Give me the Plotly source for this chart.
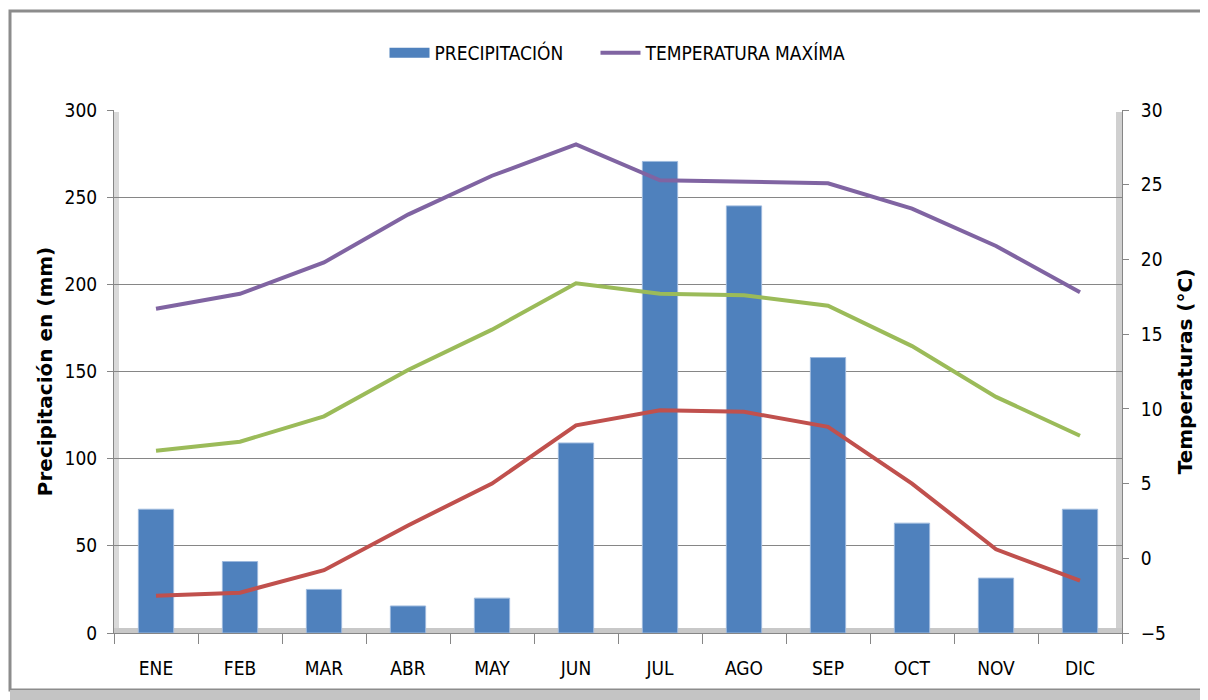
import plotly.graph_objects as go

meses = ["ENE", "FEB", "MAR", "ABR", "MAY", "JUN", "JUL", "AGO", "SEP", "OCT", "NOV", "DIC"]
precipitacion = [71, 41, 25, 15.5, 20, 109, 270.5, 245, 158, 63, 31.5, 71]
temp_max = [16.7, 17.7, 19.8, 23.0, 25.6, 27.7, 25.3, 25.2, 25.1, 23.4, 20.9, 17.8]
temp_med = [7.2, 7.8, 9.5, 12.6, 15.3, 18.4, 17.7, 17.6, 16.9, 14.2, 10.8, 8.2]
temp_min = [-2.5, -2.3, -0.8, 2.2, 5.0, 8.9, 9.9, 9.8, 8.8, 5.0, 0.6, -1.5]

tick_font = dict(family="DejaVu Sans Condensed, Liberation Sans Narrow, sans-serif", size=19, color="#000000")
title_font = dict(family="DejaVu Sans, Verdana, sans-serif", size=20, color="#000000")

fig = go.Figure()
fig.add_trace(go.Bar(x=meses, y=precipitacion, name="PRECIPITACIÓN",
                     marker=dict(color="#4F81BD", line=dict(color="#9DB9DD", width=1)),
                     yaxis="y", showlegend=False))
# legend entry for precipitation (wide blue block like the original)
fig.add_trace(go.Scatter(x=[None], y=[None], name="PRECIPITACIÓN     ", mode="lines",
                         line=dict(color="#4F81BD", width=16), yaxis="y"))
fig.add_trace(go.Scatter(x=meses, y=temp_max, name="TEMPERATURA MAXÍMA", mode="lines",
                         line=dict(color="#8064A2", width=4), yaxis="y2"))
fig.add_trace(go.Scatter(x=meses, y=temp_med, name="TEMPERATURA MEDIA", mode="lines",
                         line=dict(color="#9BBB59", width=4), yaxis="y2", showlegend=False))
fig.add_trace(go.Scatter(x=meses, y=temp_min, name="TEMPERATURA MÍNIMA", mode="lines",
                         line=dict(color="#C0504D", width=4), yaxis="y2", showlegend=False))

OFF = 8  # page body margin
W, H = 1208 - OFF, 700 - OFF
L, R, T, B = 114 - OFF, 86, 110 - OFF, 67
pw, ph = W - L - R, H - T - B

def px_x(x):
    return (x - OFF - L) / pw

def px_y(y):
    return (H - B - (y - OFF)) / ph

shapes = [
    # outer frame
    dict(type="rect", xref="paper", yref="paper", x0=px_x(10), x1=px_x(1212), y0=px_y(690), y1=px_y(11),
         line=dict(color="#8C8C8C", width=3), fillcolor="rgba(0,0,0,0)", layer="below"),
    # bottom shadow
    dict(type="rect", xref="paper", yref="paper", x0=px_x(10), x1=px_x(1212), y0=px_y(700), y1=px_y(690),
         line=dict(width=0), fillcolor="#C4C4C4", layer="below"),
    # 3D wall left shading
    dict(type="rect", xref="paper", yref="paper", x0=px_x(114), x1=px_x(119), y0=px_y(630), y1=px_y(112),
         line=dict(width=0), fillcolor="#D9D9D9", layer="below"),
    # 3D wall right shading
    dict(type="rect", xref="paper", yref="paper", x0=px_x(1116), x1=px_x(1122), y0=px_y(630), y1=px_y(112),
         line=dict(width=0), fillcolor="#D0D0D0", layer="below"),
    # floor
    dict(type="rect", xref="paper", yref="paper", x0=px_x(114), x1=px_x(1122), y0=px_y(633), y1=px_y(628),
         line=dict(width=0), fillcolor="#C8C8C8", layer="below"),
]

fig.update_layout(
    width=W, height=H,
    margin=dict(l=L, r=R, t=T, b=B),
    paper_bgcolor="#FFFFFF", plot_bgcolor="#FFFFFF",
    bargap=0.58,
    shapes=shapes,
    showlegend=True,
    legend=dict(orientation="h", x=0.5, xanchor="center", y=px_y(53), yanchor="middle",
                font=dict(family=tick_font["family"], size=19, color="#000000"),
                itemwidth=40, traceorder="normal"),
    xaxis=dict(type="category", tickfont=tick_font, showline=True, linecolor="#868686", linewidth=1,
               ticks="outside", tickson="boundaries", ticklen=10, tickcolor="#868686",
               ticklabelstandoff=18,
               showgrid=False, range=[-0.5, 11.5]),
    yaxis=dict(range=[0, 300], dtick=50, tickfont=tick_font, showline=True, linecolor="#868686",
               ticks="outside", ticklen=6, tickcolor="#868686", ticklabelstandoff=6,
               showgrid=True, gridcolor="#868686", gridwidth=1, zeroline=False,
               title=dict(text="<b>Precipitación en (mm)</b>", font=title_font, standoff=6)),
    yaxis2=dict(range=[-5, 30], dtick=5, overlaying="y", side="right", tickfont=tick_font,
                showline=True, linecolor="#868686", ticks="outside", ticklen=6, tickcolor="#868686",
                ticklabelstandoff=8,
                showgrid=False, zeroline=False,
                title=dict(text="<b>Temperaturas (°C)</b>", font=title_font, standoff=12)),
)

fig.write_html("out.html")
